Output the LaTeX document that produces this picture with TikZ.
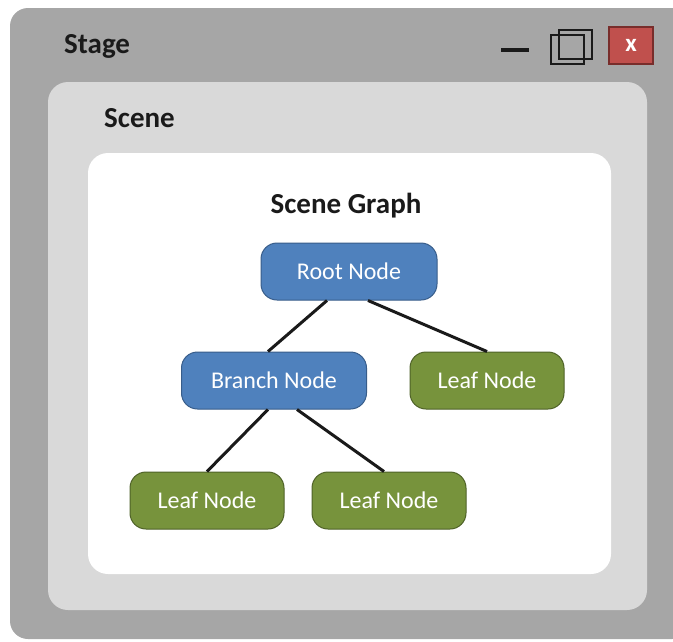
\documentclass[tikz,border=0pt]{standalone}
\usepackage{fontspec}
\setmainfont{Carlito}
\definecolor{stage_gray}{RGB}{166, 166, 166}
\definecolor{scene_gray}{RGB}{217, 217, 217}
\definecolor{node_blue}{RGB}{79, 129, 189}
\definecolor{node_blue_dark}{RGB}{56, 93, 138}
\definecolor{node_green}{RGB}{119, 147, 60}
\definecolor{node_green_dark}{RGB}{79, 98, 40}
\definecolor{close_red}{RGB}{192, 80, 77}
\definecolor{close_dark}{RGB}{120, 45, 43}
\definecolor{ink}{RGB}{26, 26, 26}
\usepackage{tikz}
\usetikzlibrary{positioning}

\tikzset{
  treenode/.style={draw, line width=1pt, rounded corners=16pt, text=white,
                   font=\fontsize{24}{28}\selectfont, align=center,
                   minimum height=57pt, inner sep=0pt},
  bluenode/.style={treenode, fill=node_blue, draw=node_blue_dark},
  greennode/.style={treenode, fill=node_green, draw=node_green_dark,
                    minimum width=154pt},
  titletext/.style={font=\fontsize{29}{34}\selectfont\bfseries, text=ink,
                    inner sep=0pt},
  treeline/.style={line width=3pt, ink}
}

\begin{document}
\begin{tikzpicture}[x=1pt, y=-1pt]
        \useasboundingbox (0,0) rectangle (673,641);
        % window frames
        \fill[stage_gray, rounded corners=18pt] (10,8) rectangle (690,639);
        \fill[scene_gray, rounded corners=20pt] (48,82) rectangle (647,610);
        \fill[white, rounded corners=20pt] (88,153) rectangle (611,574);
        % window buttons
        \fill[ink] (501,47.5) rectangle (529,52);
        \draw[ink, line width=1.6pt] (559,30) rectangle (592,59);
        \draw[ink, line width=1.6pt] (551,35) rectangle (584,64);
        \node[draw=close_dark, line width=1.5pt, fill=close_red, text=white,
              font=\fontsize{25}{28}\selectfont\bfseries,
              minimum width=44pt, minimum height=37pt, inner sep=0pt]
              (close) at (631,45.5) {x};
        % labels
        \node[titletext, anchor=west] (stage) at (64,46) {Stage};
        \node[titletext, anchor=west] (scene) at (104,118) {Scene};
        \node[titletext] (graph) at (346,206) {Scene Graph};
        % tree
        \node[bluenode, minimum width=176pt] (root) at (349,271.5) {Root Node};
        \node[bluenode, minimum width=185pt,
              below=51pt of root, xshift=-75pt] (branch) {Branch Node};
        \node[greennode, below=51pt of root, xshift=138pt] (leafr) {Leaf Node};
        \node[greennode, below=62pt of branch, xshift=-67pt] (leafa) {Leaf Node};
        \node[greennode, below=62pt of branch, xshift=115pt] (leafb) {Leaf Node};
        \draw[treeline] ([xshift=-22pt]root.south) -- ([xshift=-6pt]branch.north);
        \draw[treeline] ([xshift=19pt]root.south) -- (leafr.north);
        \draw[treeline] ([xshift=-6pt]branch.south) -- (leafa.north);
        \draw[treeline] ([xshift=23pt]branch.south) -- ([xshift=-5pt]leafb.north);
      \end{tikzpicture}
\end{document}
